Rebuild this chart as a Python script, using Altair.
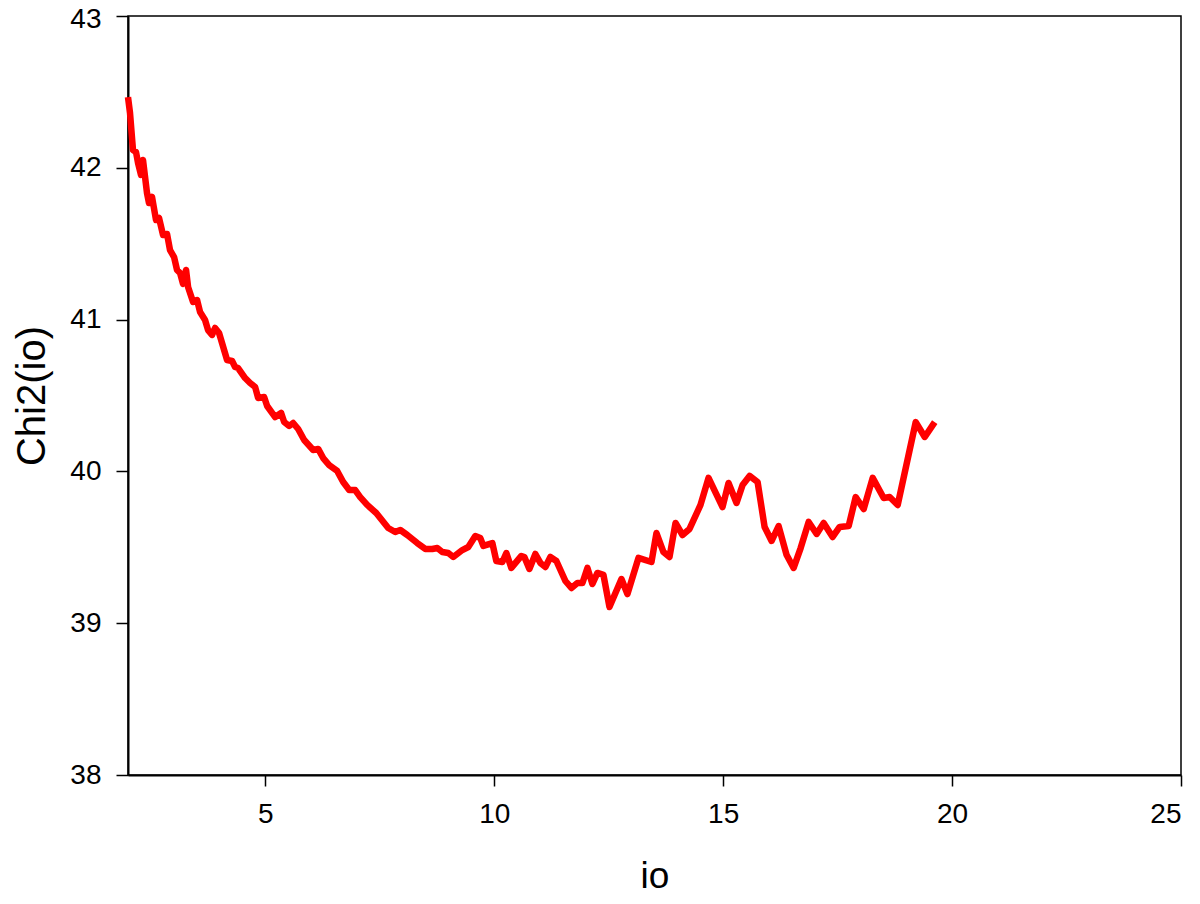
import altair as alt
import pandas as pd

io = [2.000, 2.044, 2.109, 2.175, 2.219, 2.284, 2.328, 2.415, 2.459, 2.525,
      2.612, 2.678, 2.765, 2.853, 2.918, 3.006, 3.071, 3.137, 3.202, 3.268,
      3.312, 3.421, 3.509, 3.574, 3.683, 3.749, 3.836, 3.902, 3.989, 4.164,
      4.274, 4.339, 4.405, 4.558, 4.667, 4.777, 4.842, 4.973, 5.039, 5.214,
      5.345, 5.411, 5.520, 5.607, 5.717, 5.848, 6.045, 6.154, 6.263, 6.394,
      6.569, 6.700, 6.832, 6.963, 7.072, 7.225, 7.422, 7.684, 7.837, 7.947,
      8.100, 8.318, 8.493, 8.646, 8.756, 8.865, 8.996, 9.105, 9.302, 9.433,
      9.586, 9.696, 9.761, 9.958, 10.045, 10.177, 10.264, 10.373, 10.592, 10.658,
      10.767, 10.898, 11.007, 11.117, 11.226, 11.357, 11.554, 11.685, 11.816, 11.926,
      12.035, 12.144, 12.253, 12.385, 12.516, 12.778, 12.909, 13.150, 13.434, 13.543,
      13.696, 13.828, 13.959, 14.112, 14.265, 14.505, 14.680, 14.986, 15.117, 15.292,
      15.424, 15.577, 15.752, 15.905, 16.058, 16.211, 16.386, 16.539, 16.692, 16.867,
      17.042, 17.195, 17.391, 17.544, 17.741, 17.894, 18.069, 18.266, 18.506, 18.637,
      18.812, 19.206, 19.403, 19.621]

chi2 = [42.466, 42.361, 42.117, 42.104, 42.032, 41.953, 42.051, 41.834, 41.768, 41.808,
        41.656, 41.669, 41.557, 41.564, 41.458, 41.412, 41.327, 41.307, 41.235, 41.327,
        41.215, 41.116, 41.129, 41.050, 40.997, 40.931, 40.899, 40.945, 40.912, 40.734,
        40.727, 40.688, 40.681, 40.615, 40.582, 40.556, 40.484, 40.490, 40.431, 40.358,
        40.385, 40.325, 40.299, 40.319, 40.279, 40.207, 40.141, 40.148, 40.088, 40.042,
        40.003, 39.930, 39.877, 39.877, 39.831, 39.779, 39.726, 39.627, 39.601, 39.614,
        39.581, 39.528, 39.489, 39.489, 39.495, 39.469, 39.462, 39.436, 39.482, 39.502,
        39.574, 39.561, 39.509, 39.528, 39.410, 39.403, 39.462, 39.364, 39.443, 39.436,
        39.357, 39.456, 39.397, 39.370, 39.436, 39.410, 39.278, 39.232, 39.265, 39.265,
        39.364, 39.258, 39.331, 39.318, 39.107, 39.291, 39.192, 39.430, 39.403, 39.594,
        39.469, 39.436, 39.660, 39.581, 39.621, 39.779, 39.957, 39.765, 39.924, 39.792,
        39.910, 39.970, 39.930, 39.634, 39.542, 39.640, 39.449, 39.364, 39.495, 39.667,
        39.588, 39.660, 39.568, 39.634, 39.640, 39.831, 39.752, 39.957, 39.825, 39.831,
        39.779, 40.325, 40.227, 40.325]

x_ticks = [5, 10, 15, 20, 25]
y_ticks = [38, 39, 40, 41, 42, 43]

df = pd.DataFrame({"io": io, "chi2": chi2})

font = "Liberation Sans"

chart = alt.Chart(df).mark_line(color="#ff0000", strokeWidth=6.5, strokeJoin="round").encode(
    x=alt.X("io:Q", scale=alt.Scale(domain=[2, 25], nice=False, zero=False),
            axis=alt.Axis(values=x_ticks, title="io", titleFontSize=37, titleFont=font,
                          titleFontWeight="normal", titlePadding=30,
                          labelFontSize=28, labelFont=font, labelPadding=14,
                          tickSize=11, grid=False)),
    y=alt.Y("chi2:Q", scale=alt.Scale(domain=[38, 43], nice=False, zero=False),
            axis=alt.Axis(values=y_ticks, title="Chi2(io)", titleFontSize=40, titleFont=font,
                          titleFontWeight="normal", titlePadding=17,
                          labelFontSize=28, labelFont=font, labelPadding=15,
                          labelOffset={"condition": {"test": "datum.value == 43", "value": 3}, "value": 0},
                          tickSize=12, grid=False)),
).properties(
    width=1053, height=759,
    autosize=alt.AutoSizeParams(type="none"),
    padding={"left": 120, "top": 8, "right": 10, "bottom": 120},
).configure_view(
    stroke="black", strokeWidth=1.5
).configure_axis(
    domainColor="black", domainWidth=2, tickColor="black", tickWidth=1.5,
    labelColor="black", titleColor="black"
)

chart.save("out.html", embed_options={"renderer": "svg", "actions": False})
